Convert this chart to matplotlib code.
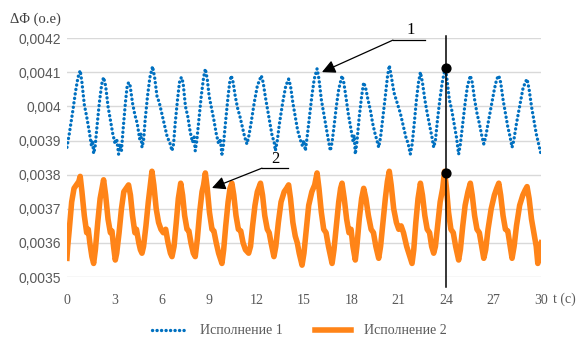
import numpy as np
import matplotlib
matplotlib.use("Agg")
import matplotlib.pyplot as plt

# series 1 (blue, dotted), values in units of 1e-4
t1 = [0.00, 0.15, 0.35, 0.55, 0.70, 0.84, 0.95, 1.10, 1.25, 1.40, 1.55, 1.62, 1.69, 1.78, 1.90, 2.05, 2.20, 2.32,
      2.45, 2.60, 2.75, 2.90, 3.05, 3.15, 3.27, 3.35, 3.45, 3.55, 3.70, 3.80, 3.90, 4.00, 4.15, 4.30, 4.45, 4.60,
      4.68, 4.75, 4.85, 4.95, 5.10, 5.25, 5.42, 5.55, 5.70, 5.85, 6.00, 6.20, 6.35, 6.50, 6.65, 6.75, 6.85, 7.00,
      7.12, 7.24, 7.35, 7.50, 7.65, 7.80, 7.95, 8.05, 8.12, 8.22, 8.35, 8.50, 8.65, 8.76, 8.88, 9.00, 9.15, 9.30,
      9.45, 9.60, 9.70, 9.81, 9.90, 10.05, 10.20, 10.30, 10.40, 10.52, 10.65, 10.80, 10.95, 11.10, 11.25, 11.39,
      11.50, 11.65, 11.85, 12.05, 12.30, 12.42, 12.55, 12.70, 12.85, 13.00, 13.10, 13.19, 13.30, 13.45, 13.65,
      13.85, 14.03, 14.15, 14.30, 14.45, 14.60, 14.75, 14.90, 15.00, 15.09, 15.20, 15.35, 15.50, 15.65, 15.83,
      15.95, 16.10, 16.25, 16.40, 16.55, 16.67, 16.78, 16.90, 17.05, 17.20, 17.41, 17.52, 17.65, 17.80, 17.95,
      18.10, 18.18, 18.25, 18.35, 18.50, 18.65, 18.78, 18.90, 19.05, 19.20, 19.35, 19.50, 19.62, 19.73, 19.85,
      20.00, 20.15, 20.28, 20.40, 20.52, 20.70, 20.90, 21.10, 21.30, 21.45, 21.60, 21.73, 21.85, 21.98, 22.12,
      22.25, 22.37, 22.50, 22.65, 22.80, 22.95, 23.10, 23.21, 23.32, 23.45, 23.60, 23.75, 23.95, 24.05, 24.20,
      24.35, 24.50, 24.65, 24.79, 24.90, 25.05, 25.20, 25.35, 25.53, 25.65, 25.80, 25.95, 26.10, 26.25, 26.38,
      26.50, 26.65, 26.85, 27.05, 27.20, 27.33, 27.45, 27.60, 27.75, 27.90, 28.05, 28.17, 28.28, 28.45, 28.65,
      28.85, 29.00, 29.12, 29.25, 29.40, 29.55, 29.70, 29.85, 30.00]
v1 = [38.80, 39.20, 39.80, 40.45, 40.85, 41.05, 40.70, 40.05, 39.70, 39.30, 38.85, 39.00, 38.62, 38.80, 39.40,
      40.10, 40.65, 40.85, 40.60, 40.00, 39.60, 39.20, 38.90, 39.05, 38.60, 38.90, 38.70, 39.30, 40.10, 40.55,
      40.70, 40.60, 40.10, 39.75, 39.50, 39.05, 39.20, 38.80, 39.00, 39.60, 40.30, 40.85, 41.17, 40.85, 40.30,
      40.10, 39.80, 39.40, 39.10, 38.95, 38.70, 38.90, 39.50, 40.20, 40.70, 40.85, 40.70, 40.00, 39.70, 39.25,
      38.95, 39.10, 38.70, 39.00, 39.60, 40.30, 40.85, 41.10, 40.80, 40.30, 39.95, 39.60, 39.20, 38.90, 39.05,
      38.60, 38.85, 39.60, 40.30, 40.70, 40.90, 40.70, 40.30, 39.95, 39.70, 39.40, 39.10, 38.90, 39.10, 39.50,
      40.10, 40.60, 40.90, 40.70, 40.30, 39.90, 39.50, 39.10, 39.00, 38.70, 38.95, 39.50, 40.10, 40.60, 40.80,
      40.60, 40.10, 39.70, 39.30, 39.05, 38.85, 39.00, 38.70, 39.10, 39.70, 40.30, 40.80, 41.10, 40.80, 40.20,
      39.80, 39.40, 39.00, 38.70, 38.95, 39.40, 40.00, 40.50, 40.90, 40.70, 40.30, 39.80, 39.40, 39.00, 39.15,
      38.60, 38.95, 39.70, 40.30, 40.70, 40.55, 40.20, 39.90, 39.50, 39.20, 39.00, 38.80, 39.10, 39.70, 40.30,
      40.85, 41.20, 40.90, 40.40, 40.10, 39.80, 39.40, 39.10, 38.90, 38.60, 38.90, 39.50, 40.20, 40.70, 41.00,
      40.70, 40.20, 39.80, 39.45, 39.10, 38.80, 39.00, 39.60, 40.20, 40.70, 41.15, 40.80, 40.20, 39.90, 39.50,
      39.10, 38.60, 38.90, 39.50, 40.10, 40.60, 40.90, 40.70, 40.20, 39.80, 39.50, 39.15, 38.90, 39.10, 39.50,
      40.00, 40.50, 40.80, 40.90, 40.70, 40.20, 39.80, 39.40, 39.10, 38.80, 39.00, 39.50, 40.00, 40.50, 40.70,
      40.80, 40.50, 40.00, 39.60, 39.20, 38.90, 38.60]

# series 2 (orange, solid), values in units of 1e-4
t2 = [0.00, 0.05, 0.15, 0.30, 0.45, 0.60, 0.75, 0.84, 0.95, 1.10, 1.25, 1.35, 1.45, 1.58, 1.69, 1.80, 1.95, 2.10,
      2.22, 2.32, 2.45, 2.60, 2.75, 2.85, 2.95, 3.06, 3.15, 3.30, 3.45, 3.60, 3.75, 3.90, 4.02, 4.15, 4.30, 4.40,
      4.55, 4.65, 4.75, 4.85, 5.00, 5.15, 5.28, 5.38, 5.50, 5.65, 5.80, 5.95, 6.10, 6.25, 6.40, 6.55, 6.65, 6.78,
      6.92, 7.05, 7.20, 7.32, 7.45, 7.60, 7.72, 7.85, 8.00, 8.12, 8.25, 8.40, 8.55, 8.65, 8.76, 8.88, 9.02, 9.18,
      9.30, 9.45, 9.60, 9.81, 9.92, 10.05, 10.20, 10.32, 10.44, 10.56, 10.70, 10.85, 11.00, 11.15, 11.30, 11.50,
      11.62, 11.75, 11.90, 12.05, 12.25, 12.38, 12.52, 12.68, 12.80, 12.92, 13.10, 13.22, 13.38, 13.55, 13.75,
      13.90, 14.03, 14.15, 14.30, 14.45, 14.58, 14.70, 14.88, 15.00, 15.15, 15.30, 15.50, 15.68, 15.83, 15.95,
      16.10, 16.25, 16.40, 16.55, 16.78, 16.90, 17.05, 17.20, 17.32, 17.41, 17.55, 17.70, 17.85, 17.98, 18.10,
      18.25, 18.35, 18.50, 18.65, 18.78, 18.92, 19.08, 19.25, 19.40, 19.55, 19.73, 19.85, 20.00, 20.15, 20.28,
      20.40, 20.52, 20.68, 20.85, 21.00, 21.15, 21.30, 21.50, 21.70, 21.84, 21.95, 22.08, 22.22, 22.37, 22.50,
      22.65, 22.80, 22.95, 23.08, 23.21, 23.32, 23.48, 23.62, 23.78, 23.90, 24.02, 24.15, 24.30, 24.45, 24.60,
      24.79, 24.90, 25.05, 25.20, 25.38, 25.53, 25.65, 25.80, 25.95, 26.10, 26.25, 26.38, 26.50, 26.65, 26.85,
      27.05, 27.20, 27.33, 27.45, 27.60, 27.75, 27.90, 28.05, 28.17, 28.30, 28.45, 28.65, 28.85, 29.00, 29.12,
      29.25, 29.40, 29.55, 29.70, 29.80, 29.90, 30.00]
v2 = [35.55, 35.90, 36.40, 37.20, 37.60, 37.70, 37.80, 37.95, 37.50, 36.80, 36.30, 36.40, 36.00, 35.60, 35.40,
      35.80, 36.60, 37.30, 37.60, 37.85, 37.40, 36.70, 36.30, 36.35, 35.90, 35.50, 35.70, 36.30, 37.00, 37.50,
      37.60, 37.70, 37.40, 36.80, 36.30, 36.40, 36.00, 35.80, 35.70, 35.90, 36.50, 37.20, 37.70, 38.10, 37.70,
      37.00, 36.60, 36.40, 36.30, 36.40, 36.00, 35.70, 35.60, 35.90, 36.60, 37.30, 37.75, 37.40, 36.80, 36.40,
      36.35, 36.00, 35.70, 35.60, 36.10, 36.90, 37.50, 37.70, 38.05, 37.60, 36.90, 36.40, 36.35, 36.00, 35.70,
      35.40, 35.80, 36.50, 37.20, 37.60, 37.75, 37.40, 36.80, 36.40, 36.35, 36.00, 35.80, 35.70, 35.90, 36.50,
      37.10, 37.50, 37.75, 37.40, 36.80, 36.40, 36.30, 36.00, 35.60, 35.90, 36.60, 37.20, 37.50, 37.60, 37.70,
      37.30, 36.60, 36.20, 36.00, 35.70, 35.35, 35.70, 36.40, 37.10, 37.50, 37.70, 38.05, 37.60, 36.90, 36.40,
      36.30, 35.90, 35.40, 35.80, 36.50, 37.20, 37.60, 37.75, 37.30, 36.70, 36.30, 36.40, 35.90, 35.50, 35.90,
      36.70, 37.30, 37.60, 37.30, 36.80, 36.40, 36.30, 35.90, 35.55, 35.90, 36.60, 37.30, 37.80, 38.10, 37.70,
      37.00, 36.60, 36.40, 36.50, 36.30, 35.90, 35.60, 35.40, 35.80, 36.60, 37.30, 37.75, 37.40, 36.80, 36.40,
      36.30, 35.90, 35.70, 35.90, 36.60, 37.20, 37.60, 38.10, 37.60, 36.90, 36.40, 36.30, 35.90, 35.50, 35.80,
      36.50, 37.10, 37.50, 37.75, 37.40, 36.80, 36.40, 36.30, 35.90, 35.55, 35.80, 36.40, 37.00, 37.40, 37.60,
      37.75, 37.40, 36.80, 36.40, 36.35, 35.90, 35.55, 35.90, 36.50, 37.10, 37.40, 37.55, 37.65, 37.30, 36.70,
      36.30, 35.90, 35.40, 35.90, 36.00]

xticks = [0, 3, 6, 9, 12, 15, 18, 21, 24, 27, 30]
yticks = [0.0035, 0.0036, 0.0037, 0.0038, 0.0039, 0.004, 0.0041, 0.0042]
ytick_labels = ["0,0035", "0,0036", "0,0037", "0,0038", "0,0039", "0,004", "0,0041", "0,0042"]
names = ["Исполнение 1", "Исполнение 2"]

# marker line at t = 24 and the two marked points
t_mark = 24
v_mark = [0.004112, 0.003805]

v1 = np.array(v1) * 1e-4
v2 = np.array(v2) * 1e-4

fig = plt.figure(figsize=(5.82, 3.4), dpi=100)
ax = fig.add_axes([0.115, 0.185, 0.8145, 0.703])

serif = "Liberation Serif"
grey = "#595959"

ax.plot(t1, v1, color="#0070C0", lw=2.4, linestyle=(0, (0.05, 1.3)),
        dash_capstyle="round", label=names[0], zorder=3)
ax.plot(t2, v2, color="#FF8418", lw=4.0, solid_joinstyle="round", label=names[1], zorder=3)

ax.set_xlim(0, 30)
ax.set_ylim(0.0035, 0.0042)
ax.set_xticks(xticks)
ax.set_yticks(yticks)
ax.set_yticklabels(ytick_labels, fontfamily="Liberation Sans", fontsize=10, color=grey)
ax.set_xticklabels([str(x) for x in xticks], fontfamily=serif, fontsize=10, color=grey)
ax.tick_params(axis="both", length=0)
ax.tick_params(axis="y", pad=4)
ax.tick_params(axis="x", pad=12)
ax.grid(axis="y", color="#d9d9d9", lw=1.0)
ax.set_axisbelow(True)
for s in ax.spines.values():
    s.set_visible(False)

# vertical marker
ax.plot([t_mark, t_mark], [0.004206, 0.003471], color="black", lw=1.1, clip_on=False, zorder=4)
ax.scatter([t_mark, t_mark], v_mark, s=40, color="black", zorder=5)

# callouts
ax.plot([22.66, 20.63], [0.004194, 0.004194], color="black", lw=0.9, clip_on=False)
ax.annotate("", xy=(16.14, 0.0041004), xytext=(20.63, 0.004194), annotation_clip=False,
            arrowprops=dict(arrowstyle="-|>", mutation_scale=20, color="black", lw=0.9,
                            shrinkA=0, shrinkB=0))
ax.text(21.77, 0.004223, "1", fontfamily=serif, fontsize=12, ha="center", va="center")

ax.plot([13.99, 12.34], [0.003819, 0.003819], color="black", lw=0.9)
ax.annotate("", xy=(9.18, 0.003761), xytext=(12.34, 0.003819),
            arrowprops=dict(arrowstyle="-|>", mutation_scale=20, color="black", lw=0.9,
                            shrinkA=0, shrinkB=0))
ax.text(13.16, 0.003845, "2", fontfamily=serif, fontsize=12, ha="center", va="center")

fig.text(10 / 582, 1 - 19 / 340, "ΔΦ (о.е)", fontfamily=serif, fontsize=10.5, color="#404040",
         ha="left", va="center")
fig.text(553 / 582, 1 - 299 / 340, "t (c)", fontfamily=serif, fontsize=10, color=grey,
         ha="left", va="center")

leg = fig.legend(loc="center", bbox_to_anchor=(299 / 582, 1 - 331 / 340), ncol=2, frameon=False,
                 prop={"family": serif, "size": 10}, handlelength=2.6, handletextpad=0.9,
                 columnspacing=2.3)
for txt in leg.get_texts():
    txt.set_color(grey)

fig.savefig("out.png", dpi=100)
